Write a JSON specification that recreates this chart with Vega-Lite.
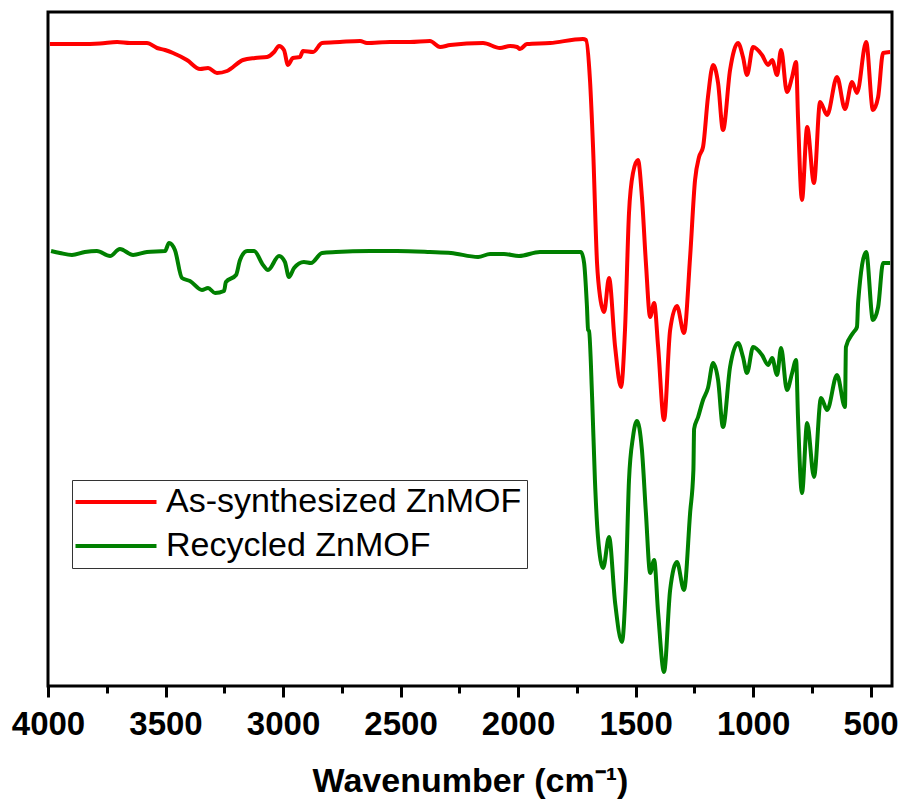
{
  "$schema": "https://vega.github.io/schema/vega-lite/v6.json",
  "width": 844,
  "height": 674,
  "autosize": "none",
  "padding": {"left": 48, "top": 12, "right": 6, "bottom": 119},
  "background": "white",
  "config": {
    "view": {"stroke": "black", "strokeWidth": 3},
    "font": "Liberation Sans"
  },
  "datasets": {
    "red": [
      {"wn":3992,"t":642},{"wn":3919,"t":642},{"wn":3864,"t":642},{"wn":3779,"t":642.5},{"wn":3706,"t":644},{"wn":3651,"t":643},{"wn":3579,"t":643},{"wn":3536,"t":638},{"wn":3502,"t":636},{"wn":3468,"t":633},{"wn":3409,"t":626},{"wn":3353,"t":617},{"wn":3319,"t":618},{"wn":3281,"t":613},{"wn":3238,"t":615},{"wn":3170,"t":626},{"wn":3119,"t":628},{"wn":3068,"t":629},{"wn":3038,"t":634},{"wn":3017,"t":640},{"wn":2996,"t":636},{"wn":2979,"t":621},{"wn":2958,"t":628},{"wn":2928,"t":629},{"wn":2915,"t":635},{"wn":2872,"t":634},{"wn":2834,"t":643},{"wn":2758,"t":644},{"wn":2672,"t":645},{"wn":2643,"t":643},{"wn":2545,"t":644},{"wn":2460,"t":644},{"wn":2375,"t":645},{"wn":2332,"t":639},{"wn":2289,"t":641},{"wn":2149,"t":643},{"wn":2077,"t":638},{"wn":2034,"t":640},{"wn":2004,"t":639},{"wn":1992,"t":637},{"wn":1962,"t":642},{"wn":1864,"t":643},{"wn":1724,"t":647},{"wn":1711,"t":646},{"wn":1694,"t":606},{"wn":1681,"t":539},{"wn":1664,"t":423},{"wn":1651,"t":389},{"wn":1634,"t":374},{"wn":1613,"t":408},{"wn":1587,"t":339},{"wn":1562,"t":299},{"wn":1545,"t":356},{"wn":1528,"t":473},{"wn":1511,"t":513},{"wn":1490,"t":526},{"wn":1473,"t":489},{"wn":1456,"t":423},{"wn":1438,"t":369},{"wn":1421,"t":383},{"wn":1404,"t":339},{"wn":1379,"t":266},{"wn":1353,"t":356},{"wn":1324,"t":380},{"wn":1294,"t":353},{"wn":1268,"t":429},{"wn":1247,"t":506},{"wn":1230,"t":529},{"wn":1213,"t":539},{"wn":1192,"t":589},{"wn":1170,"t":621},{"wn":1149,"t":603},{"wn":1128,"t":556},{"wn":1098,"t":616},{"wn":1064,"t":643},{"wn":1043,"t":629},{"wn":1026,"t":611},{"wn":1000,"t":639},{"wn":962,"t":631},{"wn":936,"t":621},{"wn":919,"t":626},{"wn":898,"t":611},{"wn":881,"t":636},{"wn":856,"t":594},{"wn":834,"t":609},{"wn":817,"t":624},{"wn":809,"t":569},{"wn":792,"t":486},{"wn":770,"t":559},{"wn":741,"t":503},{"wn":715,"t":584},{"wn":685,"t":571},{"wn":643,"t":609},{"wn":609,"t":577},{"wn":579,"t":604},{"wn":558,"t":593},{"wn":519,"t":644},{"wn":490,"t":576},{"wn":468,"t":589},{"wn":447,"t":633},{"wn":417,"t":634}
    ],
    "green": [
      {"wn":3987,"t":435},{"wn":3949,"t":433},{"wn":3898,"t":431},{"wn":3843,"t":434},{"wn":3792,"t":435},{"wn":3736,"t":430},{"wn":3694,"t":437},{"wn":3638,"t":431},{"wn":3579,"t":434},{"wn":3502,"t":435},{"wn":3485,"t":443},{"wn":3460,"t":436},{"wn":3430,"t":408},{"wn":3396,"t":405},{"wn":3345,"t":396},{"wn":3319,"t":398},{"wn":3289,"t":393},{"wn":3251,"t":395},{"wn":3243,"t":404},{"wn":3200,"t":411},{"wn":3183,"t":426},{"wn":3153,"t":435},{"wn":3123,"t":435},{"wn":3085,"t":421},{"wn":3064,"t":416},{"wn":3017,"t":430},{"wn":2992,"t":424},{"wn":2975,"t":409},{"wn":2953,"t":418},{"wn":2911,"t":424},{"wn":2881,"t":423},{"wn":2834,"t":433},{"wn":2775,"t":434},{"wn":2630,"t":435},{"wn":2515,"t":435},{"wn":2375,"t":434},{"wn":2285,"t":433},{"wn":2170,"t":429},{"wn":2119,"t":432},{"wn":2060,"t":432},{"wn":1996,"t":430},{"wn":1907,"t":434},{"wn":1821,"t":434},{"wn":1741,"t":434},{"wn":1732,"t":434},{"wn":1719,"t":423},{"wn":1707,"t":380},{"wn":1702,"t":356},{"wn":1698,"t":355},{"wn":1685,"t":289},{"wn":1673,"t":206},{"wn":1660,"t":149},{"wn":1638,"t":118},{"wn":1613,"t":149},{"wn":1587,"t":83},{"wn":1558,"t":44},{"wn":1541,"t":106},{"wn":1528,"t":206},{"wn":1511,"t":249},{"wn":1494,"t":265},{"wn":1473,"t":236},{"wn":1456,"t":173},{"wn":1438,"t":113},{"wn":1421,"t":126},{"wn":1404,"t":73},{"wn":1379,"t":14},{"wn":1353,"t":96},{"wn":1324,"t":124},{"wn":1294,"t":96},{"wn":1268,"t":173},{"wn":1254,"t":216},{"wn":1251,"t":257},{"wn":1234,"t":269},{"wn":1213,"t":286},{"wn":1192,"t":298},{"wn":1170,"t":323},{"wn":1149,"t":306},{"wn":1128,"t":259},{"wn":1098,"t":319},{"wn":1064,"t":343},{"wn":1043,"t":329},{"wn":1026,"t":313},{"wn":1000,"t":339},{"wn":962,"t":331},{"wn":936,"t":321},{"wn":919,"t":328},{"wn":898,"t":311},{"wn":881,"t":338},{"wn":856,"t":296},{"wn":834,"t":313},{"wn":817,"t":326},{"wn":809,"t":269},{"wn":792,"t":193},{"wn":770,"t":263},{"wn":741,"t":209},{"wn":711,"t":288},{"wn":685,"t":276},{"wn":643,"t":311},{"wn":609,"t":279},{"wn":605,"t":339},{"wn":575,"t":353},{"wn":558,"t":359},{"wn":553,"t":384},{"wn":519,"t":434},{"wn":490,"t":366},{"wn":468,"t":379},{"wn":447,"t":423},{"wn":417,"t":423}
    ]
  },
  "resolve": {"axis": {"x": "independent"}},
  "layer": [
    {
      "data": {"name": "red"},
      "mark": {"type": "line", "strokeWidth": 4, "interpolate": "monotone"},
      "encoding": {
        "x": {
          "field": "wn",
          "type": "quantitative",
          "scale": {"domain": [409, 4000], "reverse": true, "nice": false, "zero": false},
          "axis": {
            "orient": "bottom",
            "title": "Wavenumber (cm⁻¹)",
            "values": [4000, 3500, 3000, 2500, 2000, 1500, 1000, 500],
            "format": "d",
            "domain": false,
            "grid": false,
            "ticks": true,
            "tickColor": "black",
            "tickWidth": 3,
            "tickSize": 11,
            "labelFont": "Liberation Sans",
            "labelFontSize": 33,
            "labelFontWeight": "bold",
            "labelColor": "black",
            "labelPadding": 11,
            "labelFlush": false,
            "labelOverlap": false,
            "titleFont": "Liberation Sans",
            "titleFontSize": 34,
            "titleFontWeight": "bold",
            "titleColor": "black",
            "titlePadding": 23
          }
        },
        "y": {
          "field": "t",
          "type": "quantitative",
          "scale": {"domain": [0, 674], "nice": false, "zero": false},
          "axis": null
        },
        "color": {
          "datum": "As-synthesized ZnMOF",
          "type": "nominal",
          "scale": {"domain": ["As-synthesized ZnMOF", "Recycled ZnMOF"], "range": ["#ff0000", "#008000"]},
          "legend": {
            "title": null,
            "orient": "none",
            "legendX": 24,
            "legendY": 468,
            "symbolType": "M-4,0L4,0",
            "symbolSize": 410,
            "symbolStrokeWidth": 4,
            "symbolOffset": 22,
            "labelOffset": 33,
            "labelFont": "Liberation Sans",
            "labelFontSize": 34,
            "labelColor": "black",
            "labelLimit": 600,
            "padding": 5,
            "rowPadding": 10,
            "strokeColor": "#333333",
            "fillColor": "white"
          }
        }
      }
    },
    {
      "data": {"name": "green"},
      "mark": {"type": "line", "strokeWidth": 4, "interpolate": "monotone"},
      "encoding": {
        "x": {
          "field": "wn",
          "type": "quantitative",
          "axis": {
            "orient": "bottom",
            "title": null,
            "values": [3750, 3250, 2750, 2250, 1750, 1250, 750],
            "labels": false,
            "domain": false,
            "grid": false,
            "ticks": true,
            "tickColor": "black",
            "tickWidth": 3,
            "tickSize": 7
          }
        },
        "y": {"field": "t", "type": "quantitative"},
        "color": {"datum": "Recycled ZnMOF", "type": "nominal"}
      }
    }
  ]
}
